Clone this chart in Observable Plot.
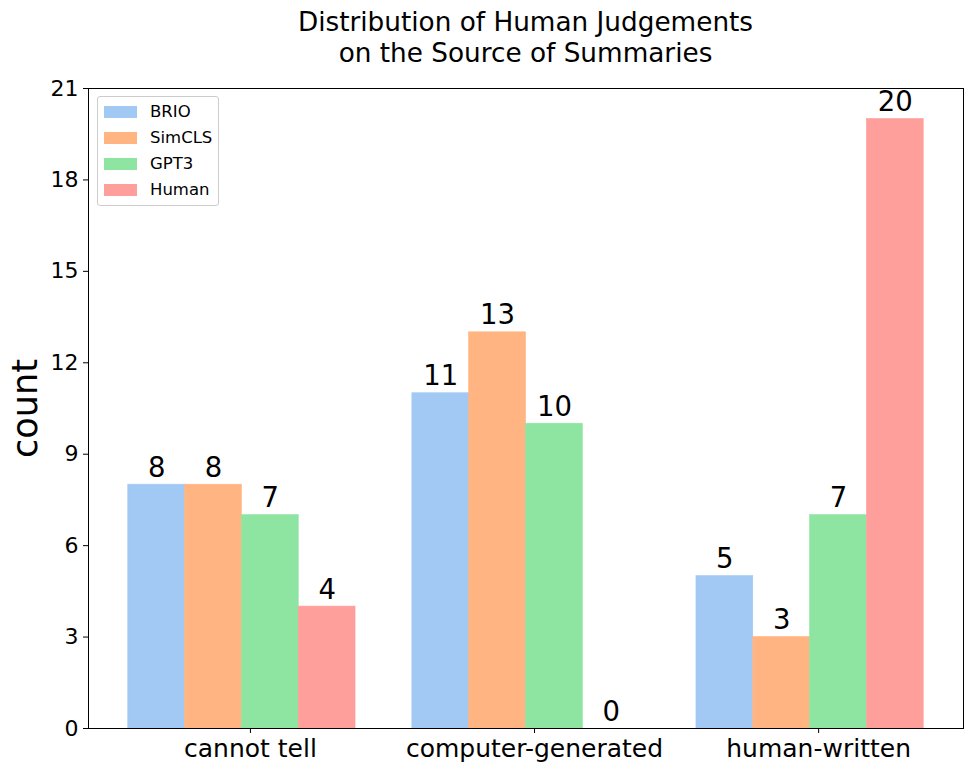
<!DOCTYPE html>
<html>
<head>
<meta charset="utf-8">
<script src="https://cdn.jsdelivr.net/npm/d3@7"></script>
<script src="https://cdn.jsdelivr.net/npm/@observablehq/plot@0.6"></script>
<style>
  html, body { margin: 0; padding: 0; background: #fff; }
  body { font-family: "DejaVu Sans", sans-serif; width: 971px; height: 772px; position: relative; overflow: hidden; }
  #title { box-sizing: border-box; width: 971px; height: 69px; padding: 7px 0 0 80px; text-align: center; font-size: 26.3px; line-height: 31px; color: #000; }
  #legend { position: absolute; left: 97px; top: 96px; width: 122px; height: 110px; box-sizing: border-box; border: 1px solid #cccccc; border-radius: 3px; background: rgba(255,255,255,0.8); }
  .row { position: absolute; left: 0; height: 20px; font-size: 16.5px; line-height: 20px; }
  .sw { position: absolute; left: 6px; top: 4px; width: 33px; height: 12px; }
  .lab { position: absolute; left: 52px; top: 0; white-space: nowrap; }
</style>
</head>
<body>
<div id="title">Distribution of Human Judgements<br>on the Source of Summaries</div>
<div id="chart"></div>
<div id="legend"></div>
<script>
const categories = ["cannot tell", "computer-generated", "human-written"];
const seriesNames = ["BRIO", "SimCLS", "GPT3", "Human"];
const seriesColors = ["#a1c9f4", "#ffb482", "#8de5a1", "#ff9f9b"];
const BRIO = [8, 11, 5];
const SimCLS = [8, 13, 3];
const GPT3 = [7, 10, 7];
const Human = [4, 0, 20];
const yTicks = [0, 3, 6, 9, 12, 15, 18, 21];

const seriesValues = [BRIO, SimCLS, GPT3, Human];
const barW = 0.2;
const tickOffset = 0.43;

const rows = [];
categories.forEach((c, ci) => {
  seriesNames.forEach((s, si) => {
    rows.push({cat: c, ci, series: s, si, value: seriesValues[si][ci]});
  });
});

const chart = Plot.plot({
  width: 971,
  height: 703,
  marginLeft: 88,
  marginRight: 8,
  marginTop: 19,
  marginBottom: 44,
  style: {fontFamily: "DejaVu Sans, sans-serif", color: "#000", background: "#fff"},
  x: {domain: [-0.14, 2.94]},
  y: {domain: [0, 21]},
  color: {domain: seriesNames, range: seriesColors},
  marks: [
    Plot.rectY(rows, {
      x1: d => d.ci + barW * d.si,
      x2: d => d.ci + barW * (d.si + 1),
      y1: 0,
      y2: "value",
      fill: "series",
      stroke: "series",
      strokeWidth: 0.6,
      inset: 0
    }),
    Plot.text(rows, {
      x: d => d.ci + barW * (d.si + 0.5),
      y: "value",
      text: d => String(d.value),
      fontSize: 27.5,
      lineAnchor: "bottom",
      dy: -8,
      fill: "#000"
    }),
    Plot.frame({stroke: "#000", strokeWidth: 1}),
    Plot.axisY({
      ticks: yTicks,
      tickSize: 5,
      tickPadding: 5,
      fontSize: 22,
      label: null,
      tickFormat: d => String(d)
    }),
    Plot.axisX({
      ticks: categories.map((c, i) => i + tickOffset),
      tickFormat: v => categories[Math.round(v - tickOffset)],
      tickSize: 5,
      tickPadding: 6,
      fontSize: 25,
      label: null
    }),
    Plot.text(["count"], {
      frameAnchor: "left",
      text: d => d,
      rotate: -90,
      dx: -63,
      fontSize: 35,
      textAnchor: "middle",
      lineAnchor: "middle",
      fill: "#000"
    })
  ]
});
document.getElementById("chart").appendChild(chart);

const legend = document.getElementById("legend");
seriesNames.forEach((s, i) => {
  const row = document.createElement("div");
  row.className = "row";
  row.style.top = (5 + i * 26) + "px";
  row.style.width = "120px";
  const sw = document.createElement("div");
  sw.className = "sw";
  sw.style.background = seriesColors[i];
  const lab = document.createElement("div");
  lab.className = "lab";
  lab.textContent = s;
  row.appendChild(sw);
  row.appendChild(lab);
  legend.appendChild(row);
});
</script>
</body>
</html>
